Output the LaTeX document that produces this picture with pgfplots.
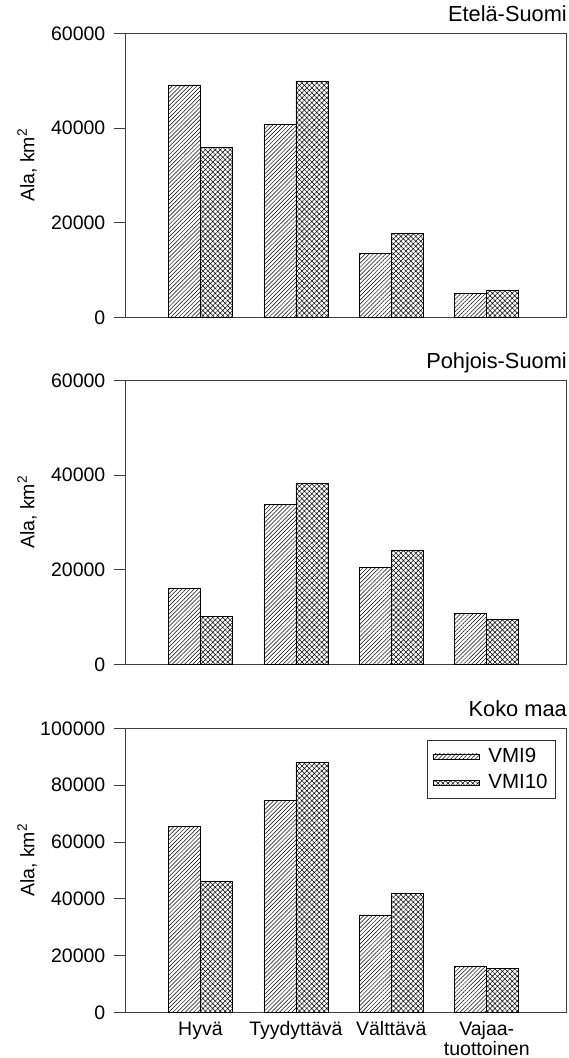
\documentclass[border=0pt]{standalone}
\usepackage{fontspec}
\setmainfont{Liberation Sans}
\usepackage{pgfplots}
\pgfplotsset{compat=1.18}
\usetikzlibrary{patterns.meta}

\pgfplotstableread{
x vmi9 vmi10
0 49100 35900
1 40800 49800
2 13500 17800
3 5100 5600
}\etela
\pgfplotstableread{
x vmi9 vmi10
0 16000 10100
1 33800 38200
2 20500 24000
3 10700 9500
}\pohjois
\pgfplotstableread{
x vmi9 vmi10
0 65400 46200
1 74600 88100
2 34300 41900
3 16200 15400
}\koko

\pgfplotsset{
  panel/.style={
    scale only axis, width=441bp, height=284bp,
    xmin=-0.79, xmax=3.83, ymin=0,
    ybar=0pt, bar width=32bp,
    axis line style={draw=black!75, line width=0.8bp},
    ytick pos=left, tick align=outside, major tick length=11bp,
    tick style={draw=black!75, line width=0.8bp},
    xtick style={draw=none},
    yticklabel={\pgfmathprintnumber[fixed,precision=0,assume math mode=true,1000 sep={}]{\tick}},
    yticklabel style={xshift=-2bp},
    scaled y ticks=false,
    ylabel={Ala, km\textsuperscript{2}},
    ylabel style={at={(axis description cs:-0.222,0.535)}, anchor=center},
    title style={at={(axis description cs:1,1)}, anchor=base east, yshift=6bp, xshift=1bp, inner sep=0pt,
      font=\fontsize{21.8bp}{24bp}\selectfont},
  },
  s9/.style={draw=black, line width=0.6bp, pattern={Lines[angle=45,distance=2.9bp,line width=0.5bp]}, pattern color=black,
    legend image code/.code={\draw[draw=black, line width=0.6bp, pattern={Lines[angle=45,distance=2.9bp,line width=0.5bp]}, pattern color=black] (0bp,-2.5bp) rectangle (46bp,2.5bp);}},
  s10/.style={draw=black, line width=0.6bp, pattern={Hatch[angle=45,distance=3.5bp,line width=0.5bp]}, pattern color=black,
    legend image code/.code={\draw[draw=black, line width=0.6bp, pattern={Hatch[angle=45,distance=3.5bp,line width=0.5bp]}, pattern color=black] (0bp,-2.5bp) rectangle (46bp,2.5bp);}},
}

\begin{document}
\fontsize{19.5bp}{20bp}\selectfont
\begin{tikzpicture}
\path[use as bounding box] (-125bp,-1058bp) rectangle (444bp,0bp);

\begin{axis}[panel, at={(0bp,-317.3bp)}, ymax=60000, ytick={0,20000,40000,60000}, xtick=\empty, title={Etelä-Suomi}]
\addplot[s9] table[x=x, y=vmi9] {\etela};
\addplot[s10] table[x=x, y=vmi10] {\etela};
\end{axis}

\begin{axis}[panel, at={(0bp,-664.3bp)}, ymax=60000, ytick={0,20000,40000,60000}, xtick=\empty, title={Pohjois-Suomi}]
\addplot[s9] table[x=x, y=vmi9] {\pohjois};
\addplot[s10] table[x=x, y=vmi10] {\pohjois};
\end{axis}

\begin{axis}[panel, at={(0bp,-1012.3bp)}, ymax=100000, ytick={0,20000,40000,60000,80000,100000},
  xtick={0,1,2,3},
  xticklabels={{Hyvä},{Tyydyttävä},{Välttävä},{\begin{tabular}[t]{@{}c@{}}Vajaa-\\tuottoinen\end{tabular}}},
  xticklabel style={anchor=base, yshift=-12.5bp},
  title={Koko maa},
  legend style={at={(axis description cs:1,1)}, anchor=north east, xshift=-10bp, yshift=-12bp,
    draw=black!80, line width=0.8bp, inner xsep=5bp, inner ysep=4bp, column sep=6bp, row sep=3bp,
    nodes={inner sep=3bp}, font=\fontsize{20.5bp}{22bp}\selectfont},
  legend cell align=left]
\addplot[s9] table[x=x, y=vmi9] {\koko};
\addlegendentry{VMI9}
\addplot[s10] table[x=x, y=vmi10] {\koko};
\addlegendentry{VMI10}
\end{axis}
\end{tikzpicture}
\end{document}
